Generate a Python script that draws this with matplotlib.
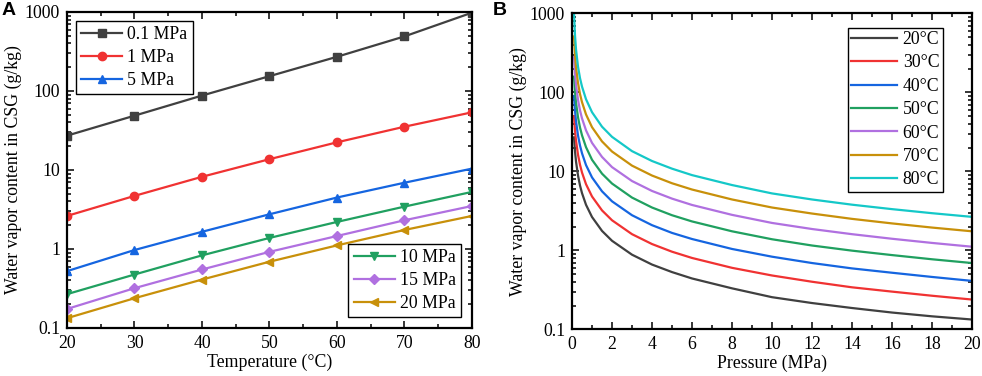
import numpy as np
import matplotlib
matplotlib.use("Agg")
import matplotlib.pyplot as plt
from matplotlib.ticker import FixedLocator, LogLocator, MultipleLocator, FuncFormatter, NullFormatter

plt.rcParams['font.family'] = ['Liberation Serif', 'DejaVu Serif']
plt.rcParams['mathtext.fontset'] = 'stix'

# ---------------------------------------------------------------------------
# Panel A: water vapor content vs temperature at several pressures
# ---------------------------------------------------------------------------
temps = [20, 30, 40, 50, 60, 70, 80]
wc_01MPa = [27.2, 48.7, 87.5, 154, 271, 491, 980]
wc_1MPa = [2.62, 4.7, 8.2, 13.7, 22.4, 35.3, 53.7]
wc_5MPa = [0.524, 0.97, 1.65, 2.75, 4.48, 6.9, 10.4]
wc_10MPa = [0.268, 0.475, 0.83, 1.38, 2.2, 3.44, 5.28]
wc_15MPa = [0.174, 0.319, 0.55, 0.92, 1.46, 2.31, 3.5]
wc_20MPa = [0.133, 0.238, 0.41, 0.69, 1.11, 1.74, 2.62]

# ---------------------------------------------------------------------------
# Panel B: water vapor content vs pressure at several temperatures
# ---------------------------------------------------------------------------
pressures = [0.1, 0.15, 0.2, 0.3, 0.4, 0.5, 0.7, 1, 1.5, 2, 3, 4, 5, 6, 8, 10, 12, 14, 16, 18, 20]
wc_20C = [26.9, 17.8, 13.3, 8.84, 6.61, 5.29, 3.77, 2.64, 1.76, 1.32, 0.88, 0.66, 0.53, 0.44, 0.33, 0.255, 0.215, 0.186, 0.163, 0.146, 0.133]
wc_30C = [49.9, 32.8, 24.4, 16.2, 12.1, 9.64, 6.87, 4.80, 3.20, 2.40, 1.60, 1.20, 0.96, 0.80, 0.60, 0.48, 0.40, 0.34, 0.30, 0.266, 0.238]
wc_40C = [89.7, 58.3, 43.1, 28.4, 21.2, 16.9, 12.0, 8.37, 5.58, 4.17, 2.78, 2.08, 1.66, 1.39, 1.04, 0.83, 0.69, 0.59, 0.52, 0.46, 0.41]
wc_50C = [158, 101, 74.0, 48.3, 35.8, 28.5, 20.2, 14.0, 9.34, 7.0, 4.65, 3.48, 2.78, 2.32, 1.74, 1.38, 1.15, 0.99, 0.87, 0.77, 0.69]
wc_60C = [280, 173, 125, 80, 59, 46.7, 33.0, 22.9, 15.2, 11.3, 7.53, 5.64, 4.51, 3.75, 2.81, 2.22, 1.86, 1.60, 1.40, 1.24, 1.11]
wc_70C = [510, 295, 208, 131, 95, 75, 52.5, 36.2, 23.9, 17.8, 11.8, 8.84, 7.06, 5.88, 4.40, 3.48, 2.92, 2.50, 2.19, 1.94, 1.74]
wc_80C = [1013, 520, 349, 211, 151, 118, 81.7, 56.0, 36.7, 27.3, 18.0, 13.5, 10.8, 8.95, 6.70, 5.25, 4.40, 3.78, 3.32, 2.95, 2.65]

c_gray = '#404040'
c_red = '#f03232'
c_blue = '#1565e0'
c_green = '#20a060'
c_purple = '#b070e0'
c_gold = '#c8900a'
c_cyan = '#14c8c8'

FS = 12.8

fig = plt.figure(figsize=(9.82, 3.76), dpi=100)
axA = fig.add_axes([0.0682, 0.1277, 0.4124, 0.8404])
axB = fig.add_axes([0.5825, 0.1242, 0.4073, 0.8404])


def style_axis(ax):
    ax.set_yscale('log')
    ax.set_ylim(0.1, 1000)
    ax.yaxis.set_major_locator(FixedLocator([0.1, 1, 10, 100, 1000]))
    ax.yaxis.set_major_formatter(FuncFormatter(lambda v, p: '%g' % v))
    ax.yaxis.set_minor_locator(LogLocator(base=10, subs=np.arange(2, 10), numticks=20))
    ax.yaxis.set_minor_formatter(NullFormatter())
    ax.tick_params(which='both', direction='in', top=True, right=True, labelsize=FS, width=1.1)
    ax.tick_params(which='major', length=5, pad=5)
    ax.tick_params(which='minor', length=3)
    for sp in ax.spines.values():
        sp.set_linewidth(1.6)
    ax.set_ylabel('Water vapor content in CSG (g/kg)', fontsize=FS, labelpad=2)


# ---- Panel A ----
series_A = [
    (wc_01MPa, c_gray, 's', '0.1 MPa'),
    (wc_1MPa, c_red, 'o', '1 MPa'),
    (wc_5MPa, c_blue, '^', '5 MPa'),
    (wc_10MPa, c_green, 'v', '10 MPa'),
    (wc_15MPa, c_purple, 'D', '15 MPa'),
    (wc_20MPa, c_gold, '<', '20 MPa'),
]
handles = []
for vals, col, mk, lab in series_A:
    ms = 5 if mk == 'D' else 6
    h, = axA.plot(temps, vals, color=col, marker=mk, markersize=ms, linewidth=1.6, label=lab)
    handles.append(h)

style_axis(axA)
axA.set_xlim(20, 80)
axA.xaxis.set_major_locator(MultipleLocator(10))
axA.xaxis.set_minor_locator(MultipleLocator(5))
axA.set_xlabel('Temperature (°C)', fontsize=FS, labelpad=1)

legA1 = axA.legend(handles=handles[:3], loc='upper left', fontsize=FS, frameon=True, fancybox=False,
                   edgecolor='black', framealpha=1, handlelength=2.3, handletextpad=0.3,
                   borderpad=0.3, labelspacing=0.33, borderaxespad=0.5)
legA1.get_frame().set_linewidth(1.0)
axA.add_artist(legA1)
legA2 = axA.legend(handles=handles[3:], loc='lower right', fontsize=FS, frameon=True, fancybox=False,
                   edgecolor='black', framealpha=1, handlelength=2.3, handletextpad=0.3,
                   borderpad=0.3, labelspacing=0.33, borderaxespad=0.6)
legA2.get_frame().set_linewidth(1.0)

# ---- Panel B ----
series_B = [
    (wc_20C, c_gray, '20°C'),
    (wc_30C, c_red, '30°C'),
    (wc_40C, c_blue, '40°C'),
    (wc_50C, c_green, '50°C'),
    (wc_60C, c_purple, '60°C'),
    (wc_70C, c_gold, '70°C'),
    (wc_80C, c_cyan, '80°C'),
]
for vals, col, lab in series_B:
    axB.plot(pressures, vals, color=col, linewidth=1.6, label=lab)

style_axis(axB)
axB.set_xlim(0, 20)
axB.xaxis.set_major_locator(MultipleLocator(2))
axB.xaxis.set_minor_locator(MultipleLocator(1))
axB.set_xlabel('Pressure (MPa)', fontsize=FS, labelpad=1)

legB = axB.legend(loc='upper right', bbox_to_anchor=(0.9275, 0.955), fontsize=FS, frameon=True,
                  fancybox=False, edgecolor='black', framealpha=1, handlelength=2.6,
                  handletextpad=0.3, borderpad=0.2, labelspacing=0.36, borderaxespad=0)
legB.get_frame().set_linewidth(1.0)

# panel letters
fig.text(0.002, 0.995, 'A', fontsize=14, fontweight='bold', family='Liberation Sans', va='top', ha='left')
fig.text(0.502, 0.995, 'B', fontsize=14, fontweight='bold', family='Liberation Sans', va='top', ha='left')

fig.savefig('out.png', dpi=100)
